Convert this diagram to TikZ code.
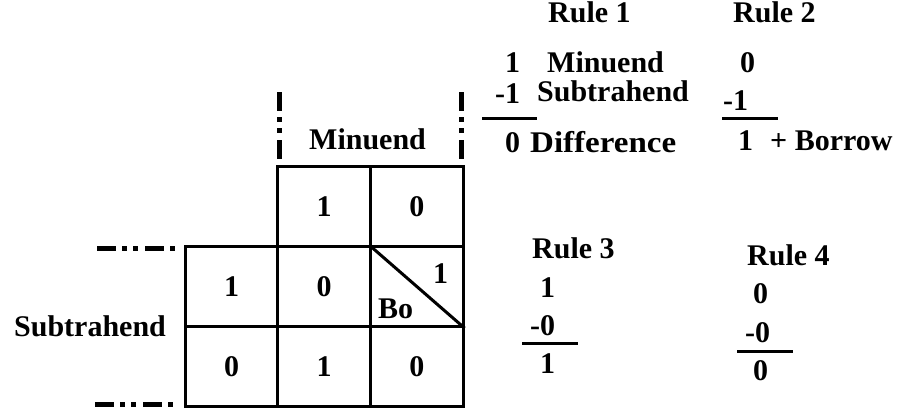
\documentclass[tikz,border=0pt]{standalone}
\usepackage{fontspec}
\setmainfont{Liberation Serif}
\begin{document}
\begin{tikzpicture}[x=1pt,y=-1pt,
  txt/.style={inner sep=0pt,anchor=base west,font=\fontsize{30}{32}\selectfont\bfseries},
  cell/.style={draw,line width=3pt,minimum width=92.67pt,minimum height=80.33pt,inner sep=0pt,
    font=\fontsize{30}{32}\selectfont\bfseries},
  rule/.style={line width=3pt},
  dashdot/.style={line width=5pt,dash pattern=on 19pt off 6pt on 5pt off 6pt on 5pt off 7pt}]
\useasboundingbox (0,0) rectangle (906,410);
% grid cells
\node[cell] (c12) at (324.2,206.2) {1};
\node[cell] (c13) at (416.8,206.2) {0};
\node[cell] (c21) at (231.5,286.5) {1};
\node[cell] (c22) at (324.2,286.5) {0};
\node[cell] (c23) at (416.8,286.5) {};
\node[cell] (c31) at (231.5,366.8) {0};
\node[cell] (c32) at (324.2,366.8) {1};
\node[cell] (c33) at (416.8,366.8) {0};
\draw[rule] (c23.north west) -- (c23.south east);
\node[txt] (d1) at (433,283) {1};
\node[txt] (bo) at (378,318) {Bo};
% grid labels
\node[txt] (minu) at (309,149) {Minuend};
\node[txt] (subt) at (14,336) {Subtrahend};
% dash-dot markers
\coordinate (v1a) at (279,92); \coordinate (v1b) at (279,161);
\coordinate (v2a) at (461,92); \coordinate (v2b) at (461,161);
\coordinate (h1a) at (97,248); \coordinate (h1b) at (176,248);
\coordinate (h2a) at (95,404); \coordinate (h2b) at (174,404);
\draw[dashdot] (v1a) -- (v1b);
\draw[dashdot] (v2a) -- (v2b);
\draw[dashdot] (h1a) -- (h1b);
\draw[dashdot] (h2a) -- (h2b);
% Rule 1
\node[txt] (r1) at (548,22) {Rule 1};
\node[txt] (r1a) at (505,72) {1};
\node[txt] (r1al) at (547,72) {Minuend};
\node[txt] (r1b) at (495,103) {-1};
\node[txt] (r1bl) at (537,101) {Subtrahend};
\coordinate (r1la) at (482,118); \coordinate (r1lb) at (537,118);
\draw[rule] (r1la) -- (r1lb);
\node[txt] (r1c) at (505,152) {0};
\node[txt] (r1cl) at (530,152) {\scalebox{1.1}[1]{Difference}};
% Rule 2
\node[txt] (r2) at (733,22) {Rule 2};
\node[txt] (r2a) at (740,72) {0};
\node[txt] (r2b) at (723,110) {-1};
\coordinate (r2la) at (722,118); \coordinate (r2lb) at (778,118);
\draw[rule] (r2la) -- (r2lb);
\node[txt] (r2c) at (738,150) {1};
\node[txt] (r2cl) at (770,150) {+ Borrow};
% Rule 3
\node[txt] (r3) at (532,258) {Rule 3};
\node[txt] (r3a) at (540,297) {1};
\node[txt] (r3b) at (530,335) {-0};
\coordinate (r3la) at (522,343); \coordinate (r3lb) at (578,343);
\draw[rule] (r3la) -- (r3lb);
\node[txt] (r3c) at (540,373) {1};
% Rule 4
\node[txt] (r4) at (747,265) {Rule 4};
\node[txt] (r4a) at (753,303) {0};
\node[txt] (r4b) at (745,342) {-0};
\coordinate (r4la) at (737,351); \coordinate (r4lb) at (793,351);
\draw[rule] (r4la) -- (r4lb);
\node[txt] (r4c) at (753,380) {0};
\end{tikzpicture}
\end{document}
